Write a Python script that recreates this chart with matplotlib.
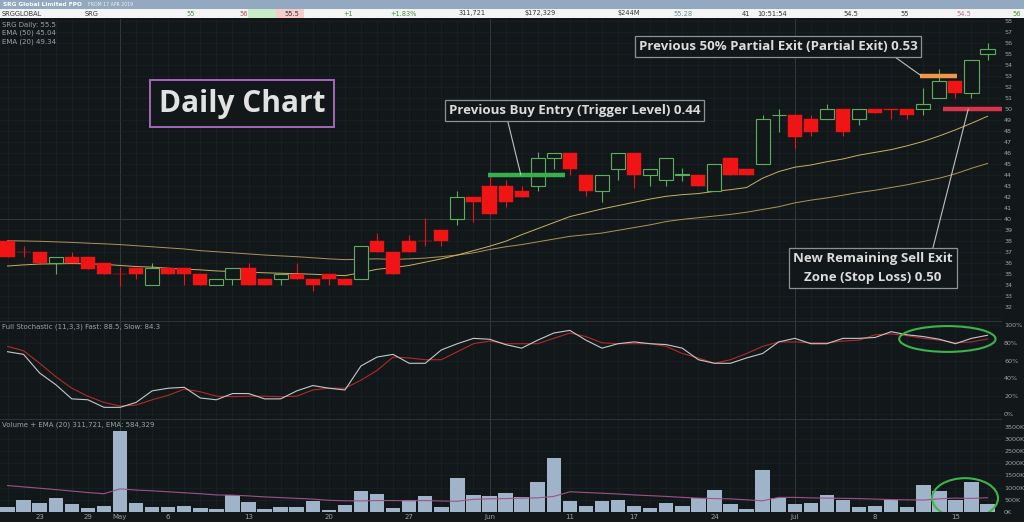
import numpy as np
import matplotlib
matplotlib.use('Agg')
import matplotlib.pyplot as plt
from matplotlib.patches import Rectangle, Ellipse

# ---- data (prices in cents, volume in K) ----
opens = [38.0, 37.0, 37.0, 36.0, 36.5, 36.5, 36.0, 35.0, 35.5, 33.95,
         35.5, 35.5, 34.95, 33.95, 34.5, 35.5, 34.5, 34.5, 34.95, 34.5,
         34.95, 34.5, 34.5, 38.0, 37.0, 38.0, 38.0, 39.0, 40.0, 42.0,
         42.95, 42.95, 42.5, 42.95, 45.5, 46.0, 43.95, 42.5, 44.5, 46.0,
         43.95, 43.5, 43.95, 44.0, 42.5, 45.5, 44.5, 45.0, 49.45, 49.5,
         49.05, 49.05, 50.0, 49.05, 50.0, 50.0, 50.0, 50.0, 51.0, 52.55,
         51.45, 55.0]
highs = [38.05, 37.5, 37.0, 36.5, 36.95, 36.5, 36.0, 35.65, 35.5, 36.0,
         35.5, 35.5, 34.95, 34.5, 35.5, 36.0, 34.5, 34.95, 36.0, 34.5,
         34.95, 34.5, 37.5, 38.7, 37.0, 38.5, 40.05, 39.0, 42.5, 42.0,
         43.9, 43.55, 42.95, 46.05, 46.0, 46.0, 43.95, 43.95, 46.0, 46.0,
         44.5, 45.5, 44.6, 44.0, 45.0, 45.5, 44.5, 49.5, 50.0, 49.5,
         49.5, 50.5, 50.0, 50.0, 50.0, 50.0, 50.0, 51.95, 53.6, 52.55,
         54.5, 56.0]
lows = [36.5, 36.5, 36.0, 34.95, 36.0, 35.45, 34.95, 33.85, 34.5, 33.95,
        34.95, 33.95, 33.95, 33.95, 33.95, 33.95, 33.95, 33.95, 34.5, 33.4,
        33.95, 33.95, 34.5, 36.95, 34.95, 36.95, 37.5, 37.5, 39.45, 39.75,
        40.45, 41.05, 42.0, 42.5, 44.5, 44.0, 42.05, 41.5, 43.5, 42.8,
        42.95, 42.95, 43.4, 42.95, 42.5, 44.0, 44.0, 45.0, 47.95, 46.45,
        47.5, 49.05, 47.5, 48.5, 49.65, 49.05, 49.05, 49.5, 51.0, 51.0,
        51.0, 54.5]
closes = [36.5, 36.95, 36.0, 36.5, 36.0, 35.45, 34.95, 34.95, 34.95, 35.5,
          34.95, 34.95, 33.95, 34.5, 35.5, 33.95, 33.95, 34.95, 34.5, 33.95,
          34.5, 33.95, 37.5, 36.95, 34.95, 36.95, 37.95, 38.0, 42.0, 41.5,
          40.45, 41.5, 42.0, 45.5, 46.0, 44.5, 42.5, 43.95, 46.0, 43.95,
          44.5, 45.5, 44.05, 42.95, 45.0, 44.0, 44.0, 49.05, 49.5, 47.45,
          47.95, 50.0, 47.95, 50.0, 49.65, 49.95, 49.5, 50.5, 52.55, 51.45,
          54.5, 55.5]
ema50 = [38.0, 37.98, 37.95, 37.9, 37.85, 37.78, 37.72, 37.65, 37.55, 37.45,
         37.35, 37.25, 37.1, 37.0, 36.9, 36.8, 36.7, 36.62, 36.55, 36.45,
         36.35, 36.28, 36.32, 36.35, 36.3, 36.35, 36.42, 36.55, 36.7, 36.9,
         37.2, 37.45, 37.65, 37.9, 38.15, 38.4, 38.55, 38.7, 38.95, 39.2,
         39.45, 39.75, 39.95, 40.1, 40.25, 40.4, 40.6, 40.85, 41.1, 41.45,
         41.7, 41.9, 42.15, 42.4, 42.6, 42.85, 43.1, 43.4, 43.7, 44.1,
         44.6, 45.04]
ema20 = [35.7, 35.8, 35.88, 35.9, 35.92, 35.9, 35.85, 35.75, 35.65, 35.6,
         35.5, 35.42, 35.35, 35.25, 35.2, 35.15, 35.08, 35.04, 35.0, 34.95,
         34.88, 34.82, 35.1, 35.4, 35.55, 35.75, 36.05, 36.35, 36.7, 37.1,
         37.5, 37.95, 38.55, 39.1, 39.65, 40.2, 40.55, 40.9, 41.2, 41.5,
         41.8, 42.05, 42.2, 42.3, 42.5, 42.65, 42.85, 43.7, 44.3, 44.7,
         44.9, 45.2, 45.45, 45.8, 46.05, 46.3, 46.65, 47.05, 47.55, 48.1,
         48.7, 49.34]
stoch_fast = [70, 67, 46, 33, 17, 16, 7.5, 7.5, 13, 26,
              29, 30, 18, 16, 23, 23, 17, 17, 26, 32,
              29, 27, 54, 64, 67, 57, 57, 72, 79, 85,
              84, 78, 74, 83, 91, 94, 83, 74, 79, 81,
              79, 78, 74, 61, 57, 57, 63, 68, 81, 85,
              79, 79, 85, 85, 86, 92.5, 89, 87, 84, 79,
              85, 88.5]
stoch_slow = [76, 71, 57, 42, 29, 20, 13, 9, 10, 16,
              21, 28, 25, 20, 19.5, 20, 20, 19.5, 20, 27,
              29, 29, 38, 49, 64, 63, 61, 61, 70, 79,
              82, 79, 79, 79, 85, 91, 87, 80, 79, 79,
              79, 76, 68, 63, 57, 61, 68, 76, 81, 81,
              80, 80, 82, 83, 89, 90, 88, 85, 83, 80,
              81, 84.3]
volume = [206, 480, 370, 577, 330, 150, 260, 3340, 370, 206,
          206, 260, 150, 110, 714, 412, 110, 190, 206, 440,
          96, 290, 865, 728, 165, 480, 645, 220, 1415, 700,
          660, 783, 604, 1222, 2225, 440, 234, 440, 480, 234,
          165, 385, 260, 590, 893, 330, 110, 1730, 590, 343,
          370, 687, 480, 190, 260, 495, 190, 1100, 865, 508,
          1250, 312]
vol_ema = [1085, 1030, 975, 920, 860, 800, 750, 950, 900, 870,
           830, 790, 750, 700, 690, 660, 620, 590, 560, 530,
           480, 460, 455, 470, 470, 460, 470, 450, 440, 520,
           540, 550, 570, 580, 640, 830, 800, 770, 740, 700,
           670, 640, 600, 570, 550, 540, 500, 460, 600, 600,
           580, 570, 560, 550, 530, 510, 500, 490, 540, 570,
           560, 584]

date_ticks = [2, 5, 7, 10, 15, 20, 25, 30, 35, 39, 44, 49, 54, 59]
date_labels = ['23', '29', 'May', '6', '13', '20', '27', 'Jun', '11', '17',
               '24', 'Jul', '8', '15']
month_starts = [7, 30, 49]

level_prices = [44.0, 53.0, 50.0]
level_start = [29.9, 56.8, 58.2]
level_end = [34.7, 59.1, 62.0]
level_colors = ['#36b04a', '#f0964a', '#d8344a']

BG = '#12181a'
GRID = '#1c2427'
GRID2 = '#323a3e'
TXT = '#9ba2a6'

W, H = 1024, 522


def fbox(x0, y0, x1, y1):
    return [x0 / W, 1 - y1 / H, (x1 - x0) / W, (y1 - y0) / H]


fig = plt.figure(figsize=(10.24, 5.22), dpi=100)
fig.patch.set_facecolor(BG)

ax_p = fig.add_axes(fbox(0, 19, 1002, 321))
ax_s = fig.add_axes(fbox(0, 321, 1002, 419), sharex=ax_p)
ax_v = fig.add_axes(fbox(0, 419, 1002, 512), sharex=ax_p)

x = np.arange(len(closes))
o = np.array(opens)
c = np.array(closes)
hi = np.array(highs)
lo = np.array(lows)

for ax in (ax_p, ax_s, ax_v):
    ax.set_facecolor(BG)
    for s in ax.spines.values():
        s.set_visible(False)
    ax.yaxis.tick_right()
    ax.tick_params(axis='y', length=0, pad=1.5, labelsize=4.6, labelcolor=TXT)
    ax.tick_params(axis='x', length=0, labelsize=5, labelcolor=TXT, pad=1.5)
    for xi in x:
        ax.axvline(xi, color=GRID, lw=0.4, zorder=0)
    for m in month_starts:
        ax.axvline(m, color=GRID2, lw=0.7, zorder=0)
ax_s.axhline(104.5, color='#2c3438', lw=0.8)
ax_v.axhline(3817, color='#2c3438', lw=0.8)

# ---- price panel ----
ax_p.set_xlim(-0.47, 61.9)
ax_p.set_ylim(30.69, 58.2)
ax_p.set_yticks(range(32, 59))
for p in range(31, 59):
    ax_p.axhline(p, color=GRID, lw=0.4, zorder=0)
ax_p.axhline(40, color=GRID2, lw=0.7, zorder=0)

up = c >= o
red = '#f01414'
grn = '#5cae5c'
body_lo = np.minimum(o, c)
body_hi = np.maximum(o, c)
ax_p.vlines(x[up], lo[up], body_lo[up], color=grn, lw=0.8, zorder=2)
ax_p.vlines(x[up], body_hi[up], hi[up], color=grn, lw=0.8, zorder=2)
ax_p.vlines(x[~up], lo[~up], hi[~up], color=red, lw=0.8, zorder=2)
ax_p.bar(x[up], np.maximum(body_hi[up] - body_lo[up], 0.04), bottom=body_lo[up],
         width=0.88, facecolor=BG, edgecolor=grn, lw=0.8, zorder=3)
ax_p.bar(x[~up], np.maximum(body_hi[~up] - body_lo[~up], 0.06), bottom=body_lo[~up],
         width=0.88, facecolor=red, edgecolor=red, lw=0.3, zorder=3)

ax_p.plot(x, ema50, color='#b09455', lw=0.7, zorder=2)
ax_p.plot(x, ema20, color='#cbb066', lw=0.7, zorder=2)

for lp, ls, le, lc in zip(level_prices, level_start, level_end, level_colors):
    ax_p.plot([ls, le], [lp, lp], color=lc, lw=3.2, solid_capstyle='butt', zorder=4)

box = dict(boxstyle='square,pad=0.3', fc=BG, ec='#8c9296', lw=0.9)
afont = dict(family='Open Sans', weight='bold', size=9.5, color='#dcdcdc')
ax_p.text(14.6, 50.5, 'Daily Chart', ha='center', va='center', family='Open Sans',
          weight='bold', size=21.5, color='#e2e2e2',
          bbox=dict(boxstyle='square,pad=0.3', fc=BG, ec='#a468b8', lw=1.4), zorder=6)
ax_p.annotate('Previous Buy Entry (Trigger Level) 0.44', xy=(31.95, level_prices[0]),
              xytext=(35.3, 49.85), ha='center', va='center', bbox=box, zorder=6,
              arrowprops=dict(arrowstyle='-', color='#c0c0c0', lw=0.8, relpos=(0.23, 0),
                              shrinkA=0, shrinkB=0), **afont)
ax_p.annotate('Previous 50% Partial Exit (Partial Exit) 0.53', xy=(56.9, level_prices[1]),
              xytext=(47.95, 55.69), ha='center', va='center', bbox=box, zorder=6,
              arrowprops=dict(arrowstyle='-', color='#c0c0c0', lw=0.8, relpos=(0.9, 0),
                              shrinkA=0, shrinkB=0), **afont)
ax_p.annotate('New Remaining Sell Exit\nZone (Stop Loss) 0.50', xy=(59.8, level_prices[2]),
              xytext=(53.86, 35.53), ha='center', va='center', bbox=box, zorder=6,
              linespacing=1.55,
              arrowprops=dict(arrowstyle='-', color='#c0c0c0', lw=0.8, relpos=(0.87, 1),
                              shrinkA=0, shrinkB=0), **afont)

ax_p.text(0.002, 0.99, 'SRG Daily: 55.5\nEMA (50) 45.04\nEMA (20) 49.34', transform=ax_p.transAxes,
          ha='left', va='top', size=5, color=TXT, linespacing=1.35)
plt.setp(ax_p.get_xticklabels(), visible=False)

# ---- stochastic panel ----
ax_s.set_ylim(-5.6, 104.5)
ax_s.set_yticks([0, 20, 40, 60, 80, 100])
ax_s.set_yticklabels(['0%', '20%', '40%', '60%', '80%', '100%'])
for p in [0, 20, 40, 60, 80, 100]:
    ax_s.axhline(p, color=GRID, lw=0.4, zorder=0)
ax_s.plot(x, stoch_slow, color='#b02a2a', lw=0.8)
ax_s.plot(x, stoch_fast, color='#c4c8cc', lw=0.8)
ax_s.add_patch(Ellipse((58.5, 84.3), 6.0, 29, fill=False, ec='#3cb44e', lw=1.5, zorder=5))
ax_s.text(0.002, 0.97, 'Full Stochastic (11,3,3) Fast: 88.5, Slow: 84.3', transform=ax_s.transAxes,
          ha='left', va='top', size=5, color=TXT)
plt.setp(ax_s.get_xticklabels(), visible=False)

# ---- volume panel ----
ax_v.set_ylim(0, 3817)
ax_v.set_yticks(range(0, 3501, 500))
ax_v.set_yticklabels([f'{v}K' for v in range(0, 3501, 500)])
for p in range(0, 3501, 500):
    ax_v.axhline(p, color=GRID, lw=0.4, zorder=0)
ax_v.bar(x, volume, width=0.9, color='#9fb4c9', zorder=2)
ax_v.plot(x, vol_ema, color='#a0508c', lw=0.8, zorder=3)
ax_v.add_patch(Ellipse((59.6, 564), 4.1, 1650, fill=False, ec='#3cb44e', lw=1.5, zorder=5))
ax_v.text(0.002, 0.97, 'Volume + EMA (20) 311,721, EMA: 584,329', transform=ax_v.transAxes,
          ha='left', va='top', size=5, color=TXT)
ax_v.set_xticks(date_ticks)
ax_v.set_xticklabels(date_labels)

# ---- header strip ----
fig.add_artist(Rectangle((0, 1 - 9 / H), 1, 9 / H, transform=fig.transFigure,
                         fc='#93a8c1', ec='none'))
fig.add_artist(Rectangle((0, 1 - 18 / H), 1, 9 / H, transform=fig.transFigure,
                         fc='#f4f4f4', ec='none'))
fig.add_artist(Rectangle((248 / W, 1 - 18 / H), 28 / W, 9 / H, transform=fig.transFigure,
                         fc='#c9ecc9', ec='none'))
fig.add_artist(Rectangle((276 / W, 1 - 18 / H), 28 / W, 9 / H, transform=fig.transFigure,
                         fc='#f6cccc', ec='none'))
fig.text(3 / W, 1 - 4.5 / H, 'SRG Global Limited FPO', size=4.2, weight='bold', color='white',
         va='center')
fig.text(88 / W, 1 - 4.8 / H, 'FROM 17 APR 2019', size=3.3, color='#eef2f6', va='center')

header_items = [(2, 'SRGGLOBAL', '#333333', 'left'), (85, 'SRG', '#333333', 'left'),
                (191, '55', '#3c9a3c', 'center'), (244, '56', '#c04a4a', 'center'),
                (292, '55.5', '#333333', 'center'), (348, '+1', '#3c9a3c', 'center'),
                (403, '+1.83%', '#3c9a3c', 'center'), (472, '311,721', '#333333', 'center'),
                (540, '$172,329', '#333333', 'center'), (629, '$244M', '#333333', 'center'),
                (683, '55.28', '#6a8aa0', 'center'), (746, '41', '#333333', 'center'),
                (772, '10:51:54', '#333333', 'center'), (851, '54.5', '#333333', 'center'),
                (905, '55', '#333333', 'center'), (964, '54.5', '#d06a7a', 'center'),
                (1017, '56', '#3c9a3c', 'center')]
for hx, ht, hc, ha in header_items:
    fig.text(hx / W, 1 - 13.5 / H, ht, size=4.8, color=hc, ha=ha, va='center')

fig.savefig('out.png', dpi=100, facecolor=BG)
